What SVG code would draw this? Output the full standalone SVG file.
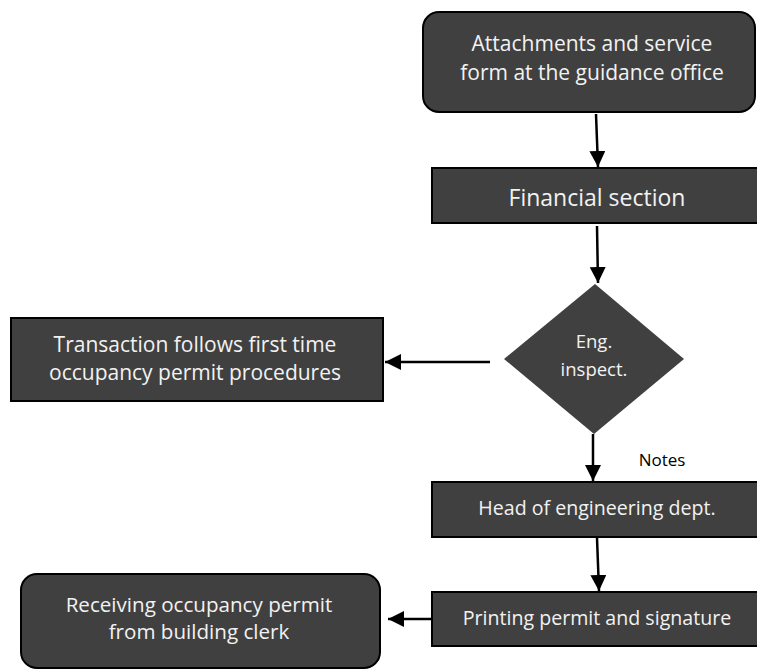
<svg xmlns="http://www.w3.org/2000/svg" width="757" height="670" viewBox="0 0 757 670">
  <style>
    .box { fill: #404040; stroke: #000; stroke-width: 2; }
    .lbl { fill: #f2f2f2; font-family: "Open Sans", "Liberation Sans", sans-serif; text-anchor: middle; }
    .note { fill: #000; font-family: "Open Sans", "Liberation Sans", sans-serif; text-anchor: middle; font-size: 17px; }
    .conn { stroke: #000; stroke-width: 2.5; fill: none; marker-end: url(#head); }
  </style>
  <defs>
    <marker id="head" viewBox="0 0 10 10" refX="10" refY="5" markerWidth="6.4" markerHeight="6.4" orient="auto" markerUnits="strokeWidth">
      <path d="M0,0 L10,5 L0,10 Z" fill="#000"/>
    </marker>
  </defs>

  <rect width="757" height="670" fill="#fff"/>

  <!-- process nodes -->
  <g id="attachments">
    <rect class="box" x="423" y="12" width="332" height="100" rx="16"/>
    <text class="lbl" font-size="21" x="592" y="51">Attachments and service</text>
    <text class="lbl" font-size="21" x="592" y="80">form at the guidance office</text>
  </g>

  <g id="financial">
    <rect class="box" x="432" y="168" width="330" height="55"/>
    <text class="lbl" font-size="23" x="597" y="206">Financial section</text>
  </g>

  <g id="inspection">
    <polygon class="box" points="595,284 684,359 594,434 504,359" style="stroke:none"/>
    <text class="lbl" font-size="18.5" x="594" y="348">Eng.</text>
    <text class="lbl" font-size="18.5" x="594" y="376">inspect.</text>
  </g>

  <g id="first-time">
    <rect class="box" x="11" y="318" width="372" height="83"/>
    <text class="lbl" font-size="21" x="195" y="352">Transaction follows first time</text>
    <text class="lbl" font-size="21" x="195" y="380">occupancy permit procedures</text>
  </g>

  <g id="head-eng">
    <rect class="box" x="432" y="482" width="330" height="55"/>
    <text class="lbl" font-size="19.6" x="597" y="515">Head of engineering dept.</text>
  </g>

  <g id="printing">
    <rect class="box" x="432" y="592" width="330" height="54"/>
    <text class="lbl" font-size="19.6" x="597" y="625">Printing permit and signature</text>
  </g>

  <g id="receiving">
    <rect class="box" x="21" y="574" width="359" height="94" rx="16"/>
    <text class="lbl" font-size="20.6" x="199" y="612">Receiving occupancy permit</text>
    <text class="lbl" font-size="20.6" x="199" y="639">from building clerk</text>
  </g>

  <!-- connectors -->
  <g id="connectors">
    <line class="conn" x1="596" y1="114" x2="598" y2="167"/>
    <line class="conn" x1="597" y1="226" x2="598" y2="283"/>
    <line class="conn" x1="490" y1="362" x2="385" y2="362"/>
    <line class="conn" x1="593" y1="434" x2="593" y2="481"/>
    <line class="conn" x1="597" y1="538" x2="599" y2="591"/>
    <line class="conn" x1="432" y1="619" x2="388" y2="619"/>
    <text class="note" x="662" y="466">Notes</text>
  </g>
</svg>
